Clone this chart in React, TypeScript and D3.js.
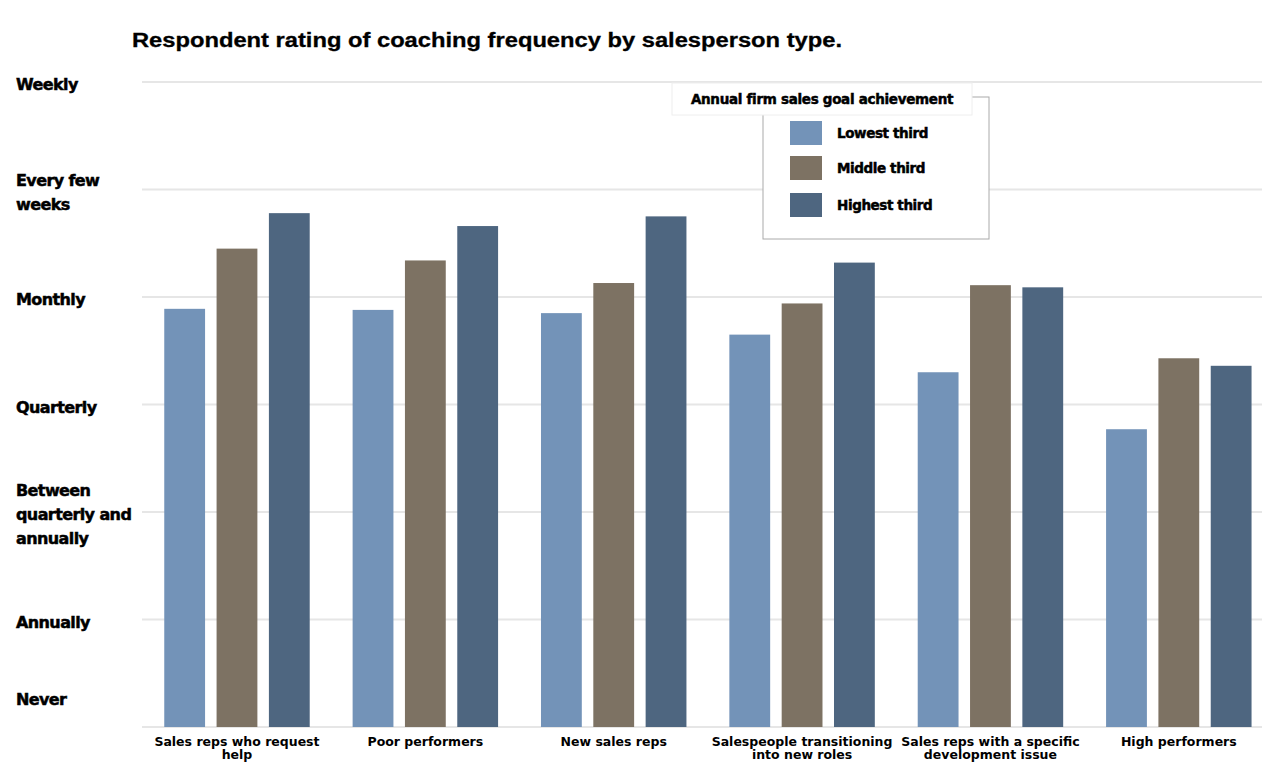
import React from "react";
import * as d3 from "d3";

const categories: string[][] = [
  ["Sales reps who request", "help"],
  ["Poor performers"],
  ["New sales reps"],
  ["Salespeople transitioning", "into new roles"],
  ["Sales reps with a specific", "development issue"],
  ["High performers"],
];
const seriesNames = ["Lowest third", "Middle third", "Highest third"];
const lowestThird = [3.89, 3.88, 3.85, 3.65, 3.3, 2.77];
const middleThird = [4.45, 4.34, 4.13, 3.94, 4.11, 3.43];
const highestThird = [4.78, 4.66, 4.75, 4.32, 4.09, 3.36];
const yTickLabels: string[][] = [
  ["Never"],
  ["Annually"],
  ["Between", "quarterly and", "annually"],
  ["Quarterly"],
  ["Monthly"],
  ["Every few", "weeks"],
  ["Weekly"],
];
const colors = ["#7393B8", "#7D7263", "#4E6680"];
const title = "Respondent rating of coaching frequency by salesperson type.";
const legendTitle = "Annual firm sales goal achievement";

const W = 1262;
const H = 763;
const heavy = "'DejaVu Sans', sans-serif";

export default function App() {
  const series = [lowestThird, middleThird, highestThird];
  const idx = categories.map((_, i) => i);
  const x0 = d3.scaleBand<number>().domain(idx).range([142.8, 1273]).padding(0);
  const x1 = d3
    .scaleBand<number>()
    .domain([0, 1, 2])
    .range([0, x0.bandwidth()])
    .paddingInner(0.22)
    .paddingOuter(0.41);
  const y = d3.scaleLinear().domain([0, 6]).range([727, 82]);
  const ticks = d3.range(0, 7);

  return (
    <svg
      width={W}
      height={H}
      style={{ position: "absolute", left: 0, top: 0, background: "#fff" }}
    >
      <rect x={0} y={0} width={W} height={H} fill="#fff" />
      <text
        x={132}
        y={47}
        fontFamily="'Liberation Sans', Arial, sans-serif"
        fontWeight={700}
        fontSize={20}
        textLength={710}
        lengthAdjust="spacingAndGlyphs"
        stroke="#000"
        strokeWidth={0.3}
        fill="#000"
      >
        {title}
      </text>
      {ticks.map((t) => (
        <line
          key={"g" + t}
          x1={142}
          x2={W}
          y1={y(t)}
          y2={y(t)}
          stroke="#e6e6e6"
          strokeWidth={2}
        />
      ))}
      {ticks.map((t) => {
        const lines = yTickLabels[t];
        const lh = 24;
        let cy = y(t) + 3;
        if (t === 0) cy = y(t) - 27;
        const start = cy - ((lines.length - 1) * lh) / 2;
        return (
          <text
            key={"yl" + t}
            x={16}
            fontFamily={heavy}
            fontWeight={700}
            fontSize={16}
            letterSpacing={-0.6}
            fill="#000"
            stroke="#000"
            strokeWidth={0.5}
            dominantBaseline="middle"
          >
            {lines.map((l, i) => (
              <tspan key={i} x={16} y={start + i * lh}>
                {l}
              </tspan>
            ))}
          </text>
        );
      })}
      {idx.map((ci) => (
        <g key={"grp" + ci} transform={`translate(${x0(ci)},0)`}>
          {series.map((s, si) => (
            <rect
              key={si}
              x={x1(si)}
              y={y(s[ci])}
              width={x1.bandwidth()}
              height={y(0) - y(s[ci])}
              fill={colors[si]}
            />
          ))}
        </g>
      ))}
      {idx.map((ci) => (
        <text
          key={"xl" + ci}
          textAnchor="middle"
          fontFamily={heavy}
          fontWeight={700}
          fontSize={12.5}
          fill="#000"
        >
          {categories[ci].map((l, i) => (
            <tspan key={i} x={(x0(ci) as number) + x0.bandwidth() / 2} y={746 + i * 13}>
              {l}
            </tspan>
          ))}
        </text>
      ))}
      {/* Legend */}
      <rect x={763} y={97} width={226} height={142} fill="#fff" stroke="#aaa" strokeWidth={1} />
      <rect x={672} y={83} width={300} height={32} fill="#fff" stroke="#eee" strokeWidth={1} />
      <text
        x={822}
        y={100}
        textAnchor="middle"
        dominantBaseline="middle"
        fontFamily={heavy}
        fontWeight={700}
        fontSize={13.5}
        letterSpacing={-0.3}
        stroke="#000"
        strokeWidth={0.5}
        fill="#000"
      >
        {legendTitle}
      </text>
      {seriesNames.map((n, i) => {
        const ly = [121, 156, 193][i];
        return (
          <g key={"lg" + i}>
            <rect x={790} y={ly} width={32} height={24} fill={colors[i]} />
            <text
              x={837}
              y={ly + 13}
              dominantBaseline="middle"
              fontFamily={heavy}
              fontWeight={700}
              fontSize={13.5}
              letterSpacing={-0.4}
              stroke="#000"
              strokeWidth={0.5}
              fill="#000"
            >
              {n}
            </text>
          </g>
        );
      })}
    </svg>
  );
}
